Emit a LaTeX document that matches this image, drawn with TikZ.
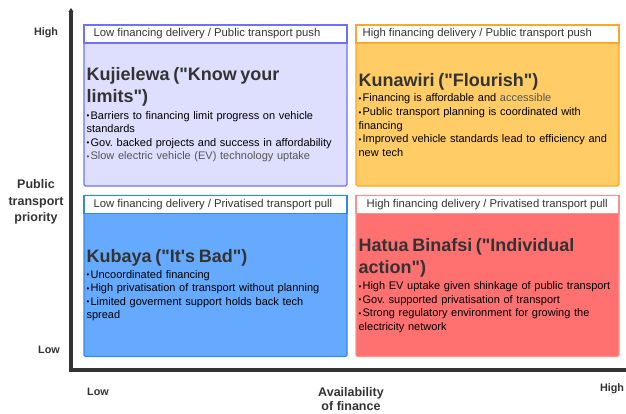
\documentclass[tikz,border=0pt]{standalone}
\usepackage{fontspec}
\setmainfont[Ligatures=TeXOff]{Liberation Sans}
\usetikzlibrary{positioning,arrows.meta}
\definecolor{inkgray}{HTML}{333333}
\definecolor{softgray}{HTML}{555555}
\definecolor{lavfill}{HTML}{DEDEFF}
\definecolor{lavline}{HTML}{7070FF}
\definecolor{ambfill}{HTML}{FFCC66}
\definecolor{ambline}{HTML}{FFA726}
\definecolor{bluefill}{HTML}{66AAFF}
\definecolor{blueline}{HTML}{3388EE}
\definecolor{redfill}{HTML}{FF7070}
\definecolor{redline}{HTML}{FF9090}
\frenchspacing
\hyphenpenalty=10000
\newcommand{\headfont}{\fontsize{18}{22}\selectfont\bfseries\color{inkgray}}
\newcommand{\itm}[1]{\hangindent=4pt\hangafter=1\noindent\makebox[4pt][l]{\raisebox{.3pt}{\fontsize{8}{8}\selectfont\textbullet}}#1\par}

\begin{document}
\begin{tikzpicture}[
  x=1pt, y=-1pt,
  quad/.style={rectangle, rounded corners=1.5pt, line width=1.2pt, minimum width=263pt, minimum height=161pt, inner sep=0pt},
  bar/.style={rectangle, fill=white, line width=1.2pt, minimum width=263pt, minimum height=18pt, inner sep=0pt, anchor=north},
  bartext/.style={inner sep=0pt, font=\fontsize{11.3}{12}\selectfont, text=inkgray},
  scen/.style={inner sep=0pt, text width=260pt, align=left, font=\fontsize{11}{13.6}\selectfont},
  axis/.style={line width=3.2pt, draw=inkgray},
  ticklabel/.style={inner sep=0pt, font=\fontsize{10.8}{12}\selectfont\bfseries, text=inkgray},
  axtitle/.style={inner sep=0pt, align=center, font=\fontsize{12.5}{16.5}\selectfont\bfseries, text=inkgray}
]
\useasboundingbox (0,0) rectangle (626,414);

\coordinate (ytop) at (71,8);
\coordinate (origin) at (71,370);
\coordinate (xend) at (626,370);
\draw[axis, {Triangle[length=4pt,width=5pt]}-] (ytop) -- (origin) -- (xend);

\node[ticklabel] (yhigh) at (46,33) {High};
\node[ticklabel] (ylow) at (49,350) {Low};
\node[ticklabel] (xlow) at (98,392) {Low};
\node[ticklabel] (xhigh) at (612,389) {High};
\node[axtitle] (ytitle) at (36,202) {Public\\transport\\priority};
\node[axtitle, font=\fontsize{12.5}{14.5}\selectfont\bfseries] (xtitle) at (351,399) {Availability\\of finance};

\node[quad, fill=lavfill, draw=lavline] (tl) at (215.5,105.5) {};
\node[quad, fill=ambfill, draw=ambline] (tr) at (487.5,105.5) {};
\node[quad, fill=bluefill, draw=blueline] (bl) at (215.5,276) {};
\node[quad, fill=redfill, draw=redline] (br) at (487.5,276) {};

\node[bar, draw=lavline] (tlbar) at (tl.north) {};
\node[bar, draw=ambline] (trbar) at (tr.north) {};
\node[bar, draw=blueline] (blbar) at (bl.north) {};
\node[bar, draw=redline] (brbar) at (br.north) {};

\node[bartext, right=10pt of tlbar.west] (tltitle) {Low financing delivery / Public transport push};
\node[bartext, right=7pt of trbar.west] (trtitle) {High financing delivery / Public transport push};
\node[bartext, right=10pt of blbar.west] (bltitle) {Low financing delivery / Privatised transport pull};
\node[bartext, right=11pt of brbar.west] (brtitle) {High financing delivery / Privatised transport pull};

\node[scen, right=3pt of tl.west, yshift=-9.5pt] (kujielewa) {%
  {\headfont Kujielewa ("Know your\\limits")\par}\vspace{2.5pt}
  \itm{Barriers to financing limit progress on vehicle\\standards}
  \itm{Gov. backed projects and success in affordability}
  {\color{softgray}\itm{Slow electric vehicle (EV) technology uptake}}};
\node[scen, right=3pt of tr.west, yshift=-9.5pt] (kunawiri) {%
  {\headfont Kunawiri ("Flourish")\par}\vspace{1.5pt}
  \itm{Financing is affordable and {\color{softgray}accessible}}
  \itm{Public transport planning is coordinated with\\financing}
  \itm{Improved vehicle standards lead to efficiency and\\new tech}};
\node[scen, right=3pt of bl.west, yshift=-9.5pt] (kubaya) {%
  {\headfont Kubaya ("It's Bad")\par}\vspace{1.5pt}
  \itm{Uncoordinated financing}
  \itm{High privatisation of transport without planning}
  \itm{Limited goverment support holds back tech\\spread}};
\node[scen, right=3pt of br.west, yshift=-9.5pt] (hatua) {%
  {\headfont Hatua Binafsi ("Individual\\action")\par}\vspace{2.5pt}
  \itm{High EV uptake given shinkage of public transport}
  \itm{Gov. supported privatisation of transport}
  \itm{Strong regulatory environment for growing the\\electricity network}};
\end{tikzpicture}
\end{document}
